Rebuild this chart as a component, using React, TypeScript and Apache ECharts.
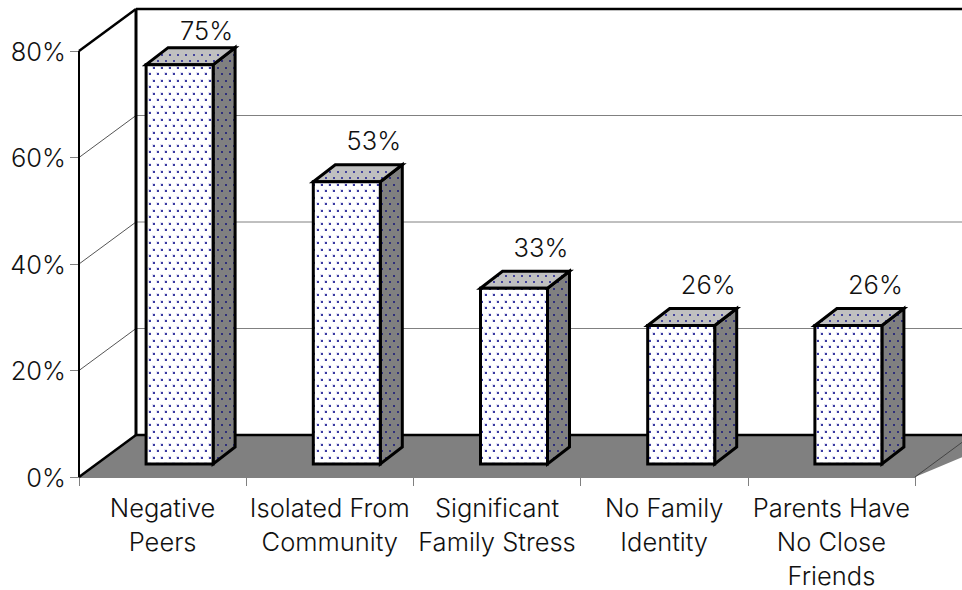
import React, { useEffect, useRef } from "react";
import * as echarts from "echarts";

const categories = ["Negative\nPeers", "Isolated From\nCommunity", "Significant\nFamily Stress", "No Family\nIdentity", "Parents Have\nNo Close\nFriends"];
const values = [75, 53, 33, 26, 26];
const yMax = 80;
const yStep = 20;
const gridTicks = [20, 40, 60];

const FONT = "Inter";
const FONT_SIZE = 25.5;
const WALL_DX = 57, WALL_DY = -42;
const BAR_W = 67, BAR_OFF_X = 17, BAR_OFF_Y = -13, DEPTH_X = 22, DEPTH_Y = -17;

function dots(bg: string, dot: string, halo: string | null) {
  const c = document.createElement("canvas");
  c.width = 8; c.height = 13;
  const g = c.getContext("2d")!;
  g.fillStyle = bg; g.fillRect(0, 0, 8, 13);
  for (const [x, y] of [[1, 2], [5, 8]]) {
    if (halo) {
      g.fillStyle = halo; g.fillRect(x - 1, y - 1, 3, 3);
    }
    g.fillStyle = dot; g.fillRect(x, y, 2, 2);
  }
  return { image: c.toDataURL(), repeat: "repeat" };
}

export default function App() {
  const ref = useRef<HTMLDivElement>(null);
  useEffect(() => {
    document.body.style.margin = "0";
    const chart = echarts.init(ref.current!, undefined, { renderer: "svg" });
    const fFront = dots("#ffffff", "#3a3aa0", "#e2e2f4");
    const fTop = dots("#c0c0c0", "#44449c", null);
    const fSide = dots("#808080", "#30307a", null);
    const black = "#000";
    chart.setOption({
      animation: false,
      backgroundColor: "#fff",
      grid: { left: 79, right: 47, top: 51, bottom: 113, containLabel: false, outerBoundsMode: "none" },
      xAxis: {
        type: "category",
        data: categories,
        axisLine: { lineStyle: { color: "#808080", width: 1 } },
        axisTick: { show: true, length: 9, alignWithLabel: false, lineStyle: { color: "#808080" } },
        axisLabel: { color: "#111", fontFamily: FONT, fontSize: FONT_SIZE, fontWeight: 300, lineHeight: 34, margin: 13, interval: 0 },
        splitLine: { show: false },
      },
      yAxis: {
        type: "value",
        min: 0,
        max: yMax,
        interval: yStep,
        axisLine: { show: false },
        axisTick: { show: true, length: 9, lineStyle: { color: "#808080" } },
        axisLabel: { color: "#111", fontFamily: FONT, fontSize: FONT_SIZE, fontWeight: 300, formatter: "{value}%", margin: 13 },
        splitLine: { show: false },
      },
      series: [
        {
          type: "custom",
          silent: true,
          z: 1,
          clip: false,
          data: [0],
          encode: { x: null, y: null },
          renderItem: (_p: any, api: any) => {
            const o = api.coord([0, 0]);
            const x0 = api.coord([0, 0])[0] - (api.size([1, 0])[0]) / 2;
            const xR = x0 + api.size([1, 0])[0] * categories.length;
            const y0 = o[1];
            const yT = api.coord([0, yMax])[1];
            const far = xR + 100;
            const line = (x1: number, y1: number, x2: number, y2: number, w: number, c = black) => ({
              type: "line",
              shape: { x1, y1, x2, y2 },
              style: { stroke: c, lineWidth: w },
            });
            const children: any[] = [
              {
                type: "polygon",
                shape: { points: [[x0, y0], [x0 + WALL_DX, y0 + WALL_DY], [far, y0 + WALL_DY], [xR, y0]] },
                style: { fill: "#808080", stroke: "none" },
              },
            ];
            for (const t of gridTicks) {
              const y = api.coord([0, t])[1];
              children.push(line(x0, y, x0 + WALL_DX, y + WALL_DY, 1, "#555"));
              children.push(line(x0 + WALL_DX, y + WALL_DY, far, y + WALL_DY, 1, "#808080"));
            }
            children.push(line(x0, yT, x0, y0, 2));
            children.push(line(x0 + WALL_DX, yT + WALL_DY, x0 + WALL_DX, y0 + WALL_DY, 3));
            children.push(line(x0, yT, x0 + WALL_DX, yT + WALL_DY, 2.5));
            children.push(line(x0 + WALL_DX, yT + WALL_DY, far, yT + WALL_DY, 2.5));
            children.push(line(x0, y0, x0 + WALL_DX, y0 + WALL_DY, 2.5));
            children.push(line(x0 + WALL_DX, y0 + WALL_DY, far, y0 + WALL_DY, 2.5));
            children.push(line(xR, y0, far, y0 + (far - xR) * (WALL_DY / WALL_DX), 1, "#444"));
            return { type: "group", children };
          },
        },
        {
          type: "custom",
          silent: true,
          z: 3,
          clip: false,
          data: values.map((v, i) => [i, v]),
          encode: { x: 0, y: 1 },
          renderItem: (_p: any, api: any) => {
            const c = api.value(0);
            const v = api.value(1);
            const cx = api.coord([c, 0])[0];
            const y0 = api.coord([c, 0])[1];
            const top = api.coord([c, v])[1] + BAR_OFF_Y;
            const l = cx + BAR_OFF_X - BAR_W / 2;
            const r = l + BAR_W;
            const b = y0 + BAR_OFF_Y;
            const style = (fill: any) => ({ fill, stroke: black, lineWidth: 3, lineJoin: "miter" });
            return {
              type: "group",
              children: [
                { type: "polygon", shape: { points: [[r, top], [r + DEPTH_X, top + DEPTH_Y], [r + DEPTH_X, b + DEPTH_Y], [r, b]] }, style: style(fSide) },
                { type: "polygon", shape: { points: [[l, top], [l + DEPTH_X, top + DEPTH_Y], [r + DEPTH_X, top + DEPTH_Y], [r, top]] }, style: style(fTop) },
                { type: "polygon", shape: { points: [[l, top], [r, top], [r, b], [l, b]] }, style: style(fFront) },
                {
                  type: "text",
                  style: {
                    text: v + "%",
                    x: cx + 44,
                    y: Math.max(top - 41, 30),
                    align: "center",
                    verticalAlign: "middle",
                    fill: "#111",
                    fontFamily: FONT,
                    fontSize: FONT_SIZE,
                    fontWeight: 300,
                  },
                },
              ],
            };
          },
        },
      ],
    });
    return () => chart.dispose();
  }, []);
  return <div ref={ref} style={{ width: 962, height: 590 }} />;
}
